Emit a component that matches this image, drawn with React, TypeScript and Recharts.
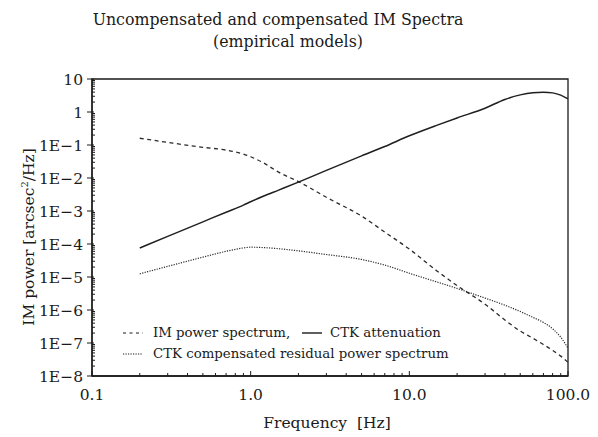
import { LineChart, Line, XAxis, YAxis, ReferenceArea, Legend } from 'recharts';

// frequencies [Hz] sampled along the curves
const freq = [0.2, 0.3, 0.5, 0.7, 0.9, 1.0, 1.2, 1.5, 2, 3, 5, 7, 10, 15, 20, 30, 40, 50, 60, 70, 80, 90, 100];

// IM power spectrum (dashed)
const imPower = [0.16, 0.12, 0.085, 0.07, 0.053, 0.044, 0.029, 0.015, 0.0078, 0.0026, 7e-4, 2.3e-4, 7e-5, 1.5e-5, 5.5e-6, 1.5e-6, 5e-7, 2.3e-7, 1.4e-7, 9e-8, 6e-8, 4e-8, 2.6e-8];

// CTK attenuation (solid)
const ctkAtten = [7.6e-5, 1.7e-4, 4.7e-4, 9.2e-4, 1.5e-3, 1.9e-3, 2.8e-3, 4.3e-3, 7.5e-3, 0.017, 0.047, 0.09, 0.19, 0.4, 0.66, 1.3, 2.4, 3.3, 3.85, 4.0, 3.8, 3.25, 2.5];

// CTK compensated residual power spectrum (dotted)
const residual = [1.25e-5, 2.1e-5, 4e-5, 6e-5, 7.6e-5, 8e-5, 7.8e-5, 7.2e-5, 6.2e-5, 4.8e-5, 3.4e-5, 2.3e-5, 1.3e-5, 7e-6, 4.5e-6, 2.3e-6, 1.4e-6, 9e-7, 6e-7, 4.2e-7, 2.7e-7, 1.5e-7, 7e-8];

const xMajor = [0.1, 1, 10, 100];
const xLabels = ['0.1', '1.0', '10.0', '100.0'];
const yMajor = [1e-8, 1e-7, 1e-6, 1e-5, 1e-4, 1e-3, 1e-2, 1e-1, 1, 10];
const yLabels = ['1E\u22128', '1E\u22127', '1E\u22126', '1E\u22125', '1E\u22124', '1E\u22123', '1E\u22122', '1E\u22121', '1', '10'];

const FONT = '"DejaVu Serif", serif';
const INK = '#1a1a1a';

const data = freq.map((f, i) => ({ f, im: imPower[i], atten: ctkAtten[i], resid: residual[i] }));

// minor ticks 2..9 within each decade
const minors = (majors: number[]) => {
    const out: number[] = [];
    for (let i = 0; i < majors.length - 1; i++) {
        for (let m = 2; m <= 9; m++) out.push(majors[i] * m);
    }
    return out;
};
const xTicks = [...xMajor, ...minors(xMajor)];
const yTicks = [...yMajor, ...minors(yMajor)];

const XTick = (props: any) => {
    const { x, y, payload } = props;
    const idx = xMajor.findIndex(m => Math.abs(payload.value / m - 1) < 1e-6);
    const major = idx >= 0;
    return (
        <g>
            <line x1={x} x2={x} y1={y} y2={y - (major ? 5 : 3)} stroke={INK} strokeWidth={1} />
            {major && (
                <text x={x} y={y + 24} textAnchor="middle" fontFamily={FONT} fontSize={15.5} fill={INK}>
                    {xLabels[idx]}
                </text>
            )}
        </g>
    );
};

const YTick = (props: any) => {
    const { x, y, payload } = props;
    const idx = yMajor.findIndex(m => Math.abs(payload.value / m - 1) < 1e-6);
    const major = idx >= 0;
    return (
        <g>
            {major
                ? <line x1={x - 5} x2={x + 2} y1={y} y2={y} stroke={INK} strokeWidth={1} />
                : <line x1={x} x2={x + 3} y1={y} y2={y} stroke={INK} strokeWidth={1} />}
            {major && (
                <text x={x - 9} y={y + 5.5} textAnchor="end" fontFamily={FONT} fontSize={15.5} fill={INK}>
                    {yLabels[idx]}
                </text>
            )}
        </g>
    );
};

const renderLegend = () => (
    <svg width={360} height={44} style={{ display: 'block' }}>
        <g fontFamily={FONT} fontSize={13.3} fill={INK}>
            <line x1={8} x2={28} y1={11} y2={11} stroke={INK} strokeWidth={1.2} strokeDasharray="3 3.5" />
            <text x={38} y={15}>IM power spectrum,</text>
            <line x1={187} x2={207} y1={11} y2={11} stroke={INK} strokeWidth={1.4} />
            <text x={215} y={15}>CTK attenuation</text>
            <line x1={8} x2={28} y1={32} y2={32} stroke={INK} strokeWidth={1.2} strokeDasharray="1.2 1.3" />
            <text x={38} y={36}>CTK compensated residual power spectrum</text>
        </g>
    </svg>
);

export default function App() {
    return (
        <div style={{ position: 'absolute', left: 0, top: 0, width: 598, height: 437, background: '#fff' }}>
            <style>{'body{margin:0}'}</style>
            <LineChart width={598} height={437} data={data} margin={{ top: 79, right: 30, left: 0, bottom: 31 }}>
                <XAxis
                    dataKey="f"
                    type="number"
                    scale="log"
                    domain={[0.1, 100]}
                    allowDataOverflow
                    ticks={xTicks}
                    interval={0}
                    tick={<XTick />}
                    tickLine={false}
                    tickSize={0}
                    tickMargin={0}
                    height={30}
                    axisLine={{ stroke: INK, strokeWidth: 1.3 }}
                />
                <YAxis
                    type="number"
                    scale="log"
                    domain={[1e-8, 10]}
                    allowDataOverflow
                    ticks={yTicks}
                    interval={0}
                    tick={<YTick />}
                    tickLine={false}
                    tickSize={0}
                    tickMargin={0}
                    width={92}
                    axisLine={{ stroke: INK, strokeWidth: 1.3 }}
                />
                <ReferenceArea x1={0.1} x2={100} y1={1e-8} y2={10} fill="none" stroke={INK} strokeWidth={1.3} ifOverflow="visible" />
                <Line type="monotone" dataKey="im" name="IM power spectrum" stroke="#2a2a2a" strokeWidth={1.3} strokeDasharray="4 3.5" dot={false} isAnimationActive={false} />
                <Line type="monotone" dataKey="atten" name="CTK attenuation" stroke="#1f1f1f" strokeWidth={1.5} dot={false} isAnimationActive={false} />
                <Line type="monotone" dataKey="resid" name="CTK compensated residual power spectrum" stroke="#2a2a2a" strokeWidth={1.2} strokeDasharray="1.2 1.3" dot={false} isAnimationActive={false} />
                <Legend
                    layout="horizontal"
                    verticalAlign="middle"
                    align="center"
                    content={renderLegend}
                    wrapperStyle={{ position: 'absolute', left: 115, top: 322, width: 360, height: 44 }}
                />
            </LineChart>
            <svg width={598} height={437} style={{ position: 'absolute', left: 0, top: 0, pointerEvents: 'none' }}>
                <g fontFamily={FONT} fill={INK}>
                    <text x={278} y={25} textAnchor="middle" fontSize={15.8}>Uncompensated and compensated IM Spectra</text>
                    <text x={288} y={47} textAnchor="middle" fontSize={15.8}>(empirical models)</text>
                    <text x={327} y={428} textAnchor="middle" fontSize={15.5} xmlSpace="preserve">Frequency  [Hz]</text>
                    <text transform="translate(34,237) rotate(-90)" textAnchor="middle" fontSize={15.5}>
                        IM power [arcsec<tspan dy={-6} fontSize={10}>2</tspan><tspan dy={6}>/Hz]</tspan>
                    </text>
                </g>
            </svg>
        </div>
    );
}
